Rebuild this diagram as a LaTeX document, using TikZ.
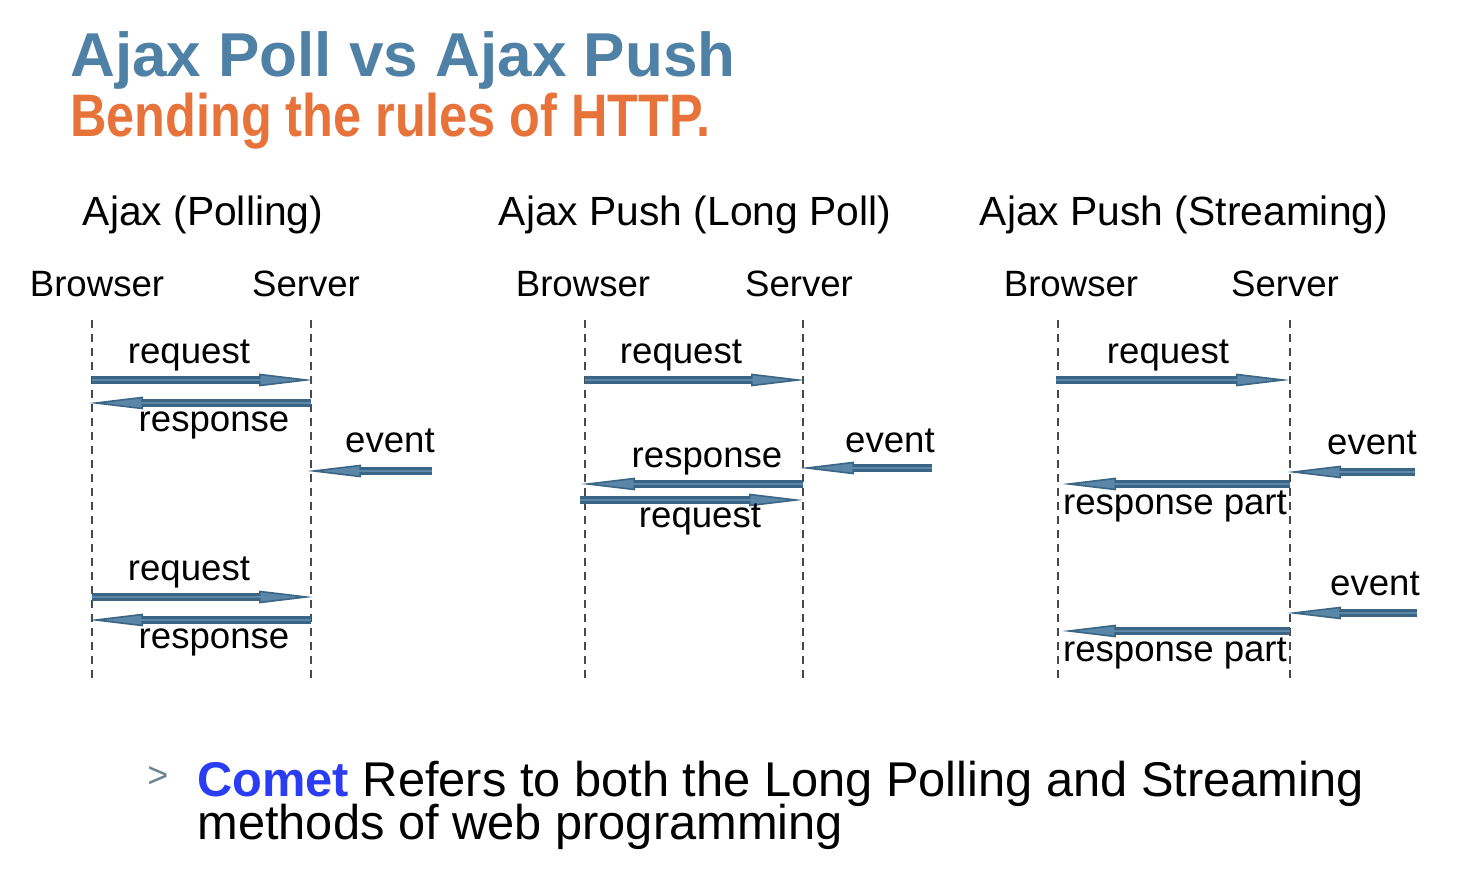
\documentclass[tikz,border=0pt]{standalone}
\usepackage{fontspec}
\setmainfont{Liberation Sans}
\usetikzlibrary{arrows.meta}
\definecolor{titleblue}{HTML}{4F80A6}
\definecolor{suborange}{HTML}{E8733A}
\definecolor{arrdark}{HTML}{3B6585}
\definecolor{arrlight}{HTML}{5A86A7}
\definecolor{lifegray}{HTML}{4A4A4A}
\definecolor{cometblue}{HTML}{2B3DF2}
\definecolor{bulletgray}{HTML}{6C8396}
\begin{document}
\begin{tikzpicture}[x=0.5pt,y=-0.5pt,
  lbl/.style={font=\fontsize{18.3}{20}\selectfont, anchor=base, inner sep=0pt},
  head/.style={font=\fontsize{20.4}{22}\selectfont, anchor=base, inner sep=0pt},
  life/.style={draw=lifegray, line width=1pt, dash pattern=on 4pt off 3pt},
  msg/.style={draw=arrdark, line width=4pt,
    -{Triangle[length=27pt,width=6.2pt,line width=0.8pt,fill=arrlight]},
    postaction={draw=arrlight,line width=1.4pt,-,shorten >=26pt}}
]
\useasboundingbox[fill=white] (0,0) rectangle (1464,876);

% titles
\node[font=\bfseries\fontsize{31}{34}\selectfont, text=titleblue, anchor=base west, inner sep=0pt] (title) at (70,77) {Ajax Poll vs Ajax Push};
\node[font=\bfseries\fontsize{30}{34}\selectfont, text=suborange, anchor=base west, inner sep=0pt, xscale=0.84] (sub) at (70,137) {Bending the rules of HTTP.};

% headings
\node[head] (h1) at (203,226) {Ajax (Polling)};
\node[head] (h2) at (695,226) {Ajax Push (Long Poll)};
\node[head] (h3) at (1184,226) {Ajax Push (Streaming)};

\node[lbl] (br1) at (97,297) {Browser};
\node[lbl] (sv1) at (306,297) {Server};
\node[lbl] (br2) at (583,297) {Browser};
\node[lbl] (sv2) at (799,297) {Server};
\node[lbl] (br3) at (1071,297) {Browser};
\node[lbl] (sv3) at (1285,297) {Server};

% lifelines
\coordinate (b1t) at (92,320);   \coordinate (b1b) at (92,678);
\coordinate (s1t) at (311,320);  \coordinate (s1b) at (311,678);
\coordinate (b2t) at (585,320);  \coordinate (b2b) at (585,678);
\coordinate (s2t) at (803,320);  \coordinate (s2b) at (803,678);
\coordinate (b3t) at (1058,320); \coordinate (b3b) at (1058,678);
\coordinate (s3t) at (1290,320); \coordinate (s3b) at (1290,678);
\draw[life] (b1t) -- (b1b);
\draw[life] (s1t) -- (s1b);
\draw[life] (b2t) -- (b2b);
\draw[life] (s2t) -- (s2b);
\draw[life] (b3t) -- (b3b);
\draw[life] (s3t) -- (s3b);

% panel 1
\coordinate (p1a) at (92,380);  \coordinate (p1b) at (313,380);
\coordinate (p1c) at (311,403); \coordinate (p1d) at (89,403);
\coordinate (p1e) at (432,471); \coordinate (p1f) at (307,471);
\coordinate (p1g) at (92,597);  \coordinate (p1h) at (313,597);
\coordinate (p1i) at (311,620); \coordinate (p1j) at (89,620);
\draw[msg] (p1a) -- (p1b);
\draw[msg] (p1c) -- (p1d);
\draw[msg] (p1e) -- (p1f);
\draw[msg] (p1g) -- (p1h);
\draw[msg] (p1i) -- (p1j);
\node[lbl] (l1a) at (189,364) {request};
\node[lbl] (l1b) at (214,432) {response};
\node[lbl] (l1c) at (390,453) {event};
\node[lbl] (l1d) at (189,581) {request};
\node[lbl] (l1e) at (214,649) {response};

% panel 2
\coordinate (p2a) at (585,380); \coordinate (p2b) at (805,380);
\coordinate (p2c) at (932,468); \coordinate (p2d) at (800,468);
\coordinate (p2e) at (803,484); \coordinate (p2f) at (581,484);
\coordinate (p2g) at (580,500); \coordinate (p2h) at (803,500);
\draw[msg] (p2a) -- (p2b);
\draw[msg] (p2c) -- (p2d);
\draw[msg] (p2e) -- (p2f);
\draw[msg] (p2g) -- (p2h);
\node[lbl] (l2a) at (681,364) {request};
\node[lbl] (l2b) at (890,453) {event};
\node[lbl] (l2c) at (707,468) {response};
\node[lbl] (l2d) at (700,528) {request};

% panel 3
\coordinate (p3a) at (1056,380); \coordinate (p3b) at (1290,380);
\coordinate (p3c) at (1415,472); \coordinate (p3d) at (1287,472);
\coordinate (p3e) at (1290,484); \coordinate (p3f) at (1062,484);
\coordinate (p3g) at (1417,613); \coordinate (p3h) at (1287,613);
\coordinate (p3i) at (1290,631); \coordinate (p3j) at (1062,631);
\draw[msg] (p3a) -- (p3b);
\draw[msg] (p3c) -- (p3d);
\draw[msg] (p3e) -- (p3f);
\draw[msg] (p3g) -- (p3h);
\draw[msg] (p3i) -- (p3j);
\node[lbl] (l3a) at (1168,364) {request};
\node[lbl] (l3b) at (1372,455) {event};
\node[lbl] (l3c) at (1175,515) {response part};
\node[lbl] (l3d) at (1375,596) {event};
\node[lbl] (l3e) at (1175,662) {response part};

% bottom text
\node[font=\fontsize{18}{20}\selectfont, text=bulletgray, anchor=base west, inner sep=0pt] (bul) at (147,788) {>};
\node[font=\fontsize{24.4}{26}\selectfont, anchor=base west, inner sep=0pt] (c1) at (197,797) {\textcolor{cometblue}{\bfseries Comet} Refers to both the Long Polling and Streaming};
\node[font=\fontsize{24.4}{26}\selectfont, anchor=base west, inner sep=0pt] (c2) at (197,840) {methods of web programming};
\end{tikzpicture}
\end{document}
